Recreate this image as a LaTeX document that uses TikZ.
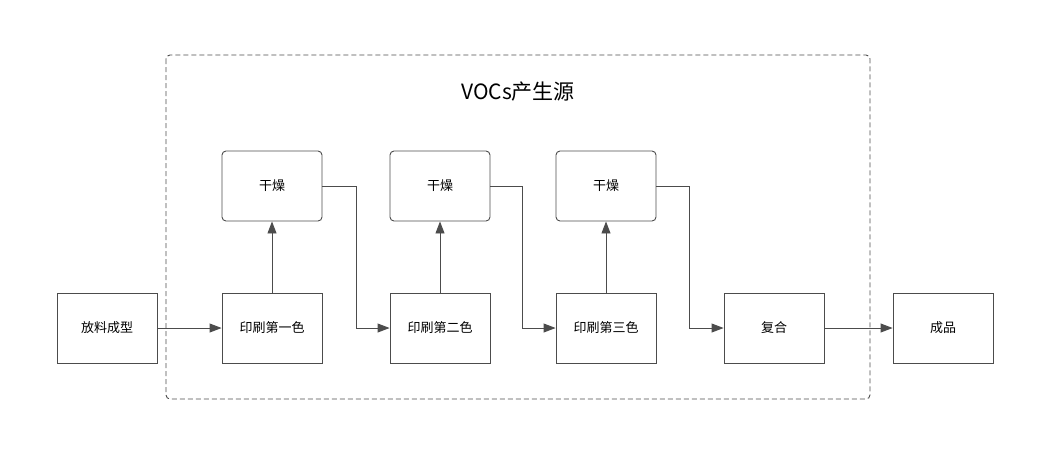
\documentclass[tikz,border=0pt]{standalone}
\usepackage{fontspec}
\setmainfont{Noto Sans CJK SC}
\usetikzlibrary{arrows.meta}

\begin{document}
\begin{tikzpicture}[x=1pt,y=-1pt,
    box/.style={draw=black!70, line width=0.9pt, minimum width=100pt, minimum height=70pt,
        inner sep=0pt, font=\fontsize{13}{15}\selectfont},
    drybox/.style={box, rounded corners=4pt},
    flow/.style={draw=black!70, line width=0.9pt, -{Triangle[length=12pt,width=9pt]}}]
    \useasboundingbox (0,0) rectangle (1051,459);
    % dashed source region
    \draw[black!70, line width=0.9pt, dash pattern=on 5pt off 3pt, rounded corners=4pt]
        (166,55) rectangle (870,399);
    \node (title) at (518,92) {\fontsize{21}{24}\selectfont VOCs产生源};
    % main row
    \node[box] (feed) at (107,328) {放料成型};
    \node[box] (p1) at (272,328) {印刷第一色};
    \node[box] (p2) at (440,328) {印刷第二色};
    \node[box] (p3) at (606,328) {印刷第三色};
    \node[box] (lam) at (774,328) {复合};
    \node[box] (prod) at (943,328) {成品};
    % drying
    \node[drybox] (d1) at (272,186) {干燥};
    \node[drybox] (d2) at (440,186) {干燥};
    \node[drybox] (d3) at (606,186) {干燥};
    \draw[flow] (feed) -- (p1);
    \draw[flow] (p1) -- (d1);
    \draw[flow] (p2) -- (d2);
    \draw[flow] (p3) -- (d3);
    \draw[flow] (d1.east) -- ++(34,0) |- (p2.west);
    \draw[flow] (d2.east) -- ++(32,0) |- (p3.west);
    \draw[flow] (d3.east) -- ++(33,0) |- (lam.west);
    \draw[flow] (lam) -- (prod);
\end{tikzpicture}
\end{document}
